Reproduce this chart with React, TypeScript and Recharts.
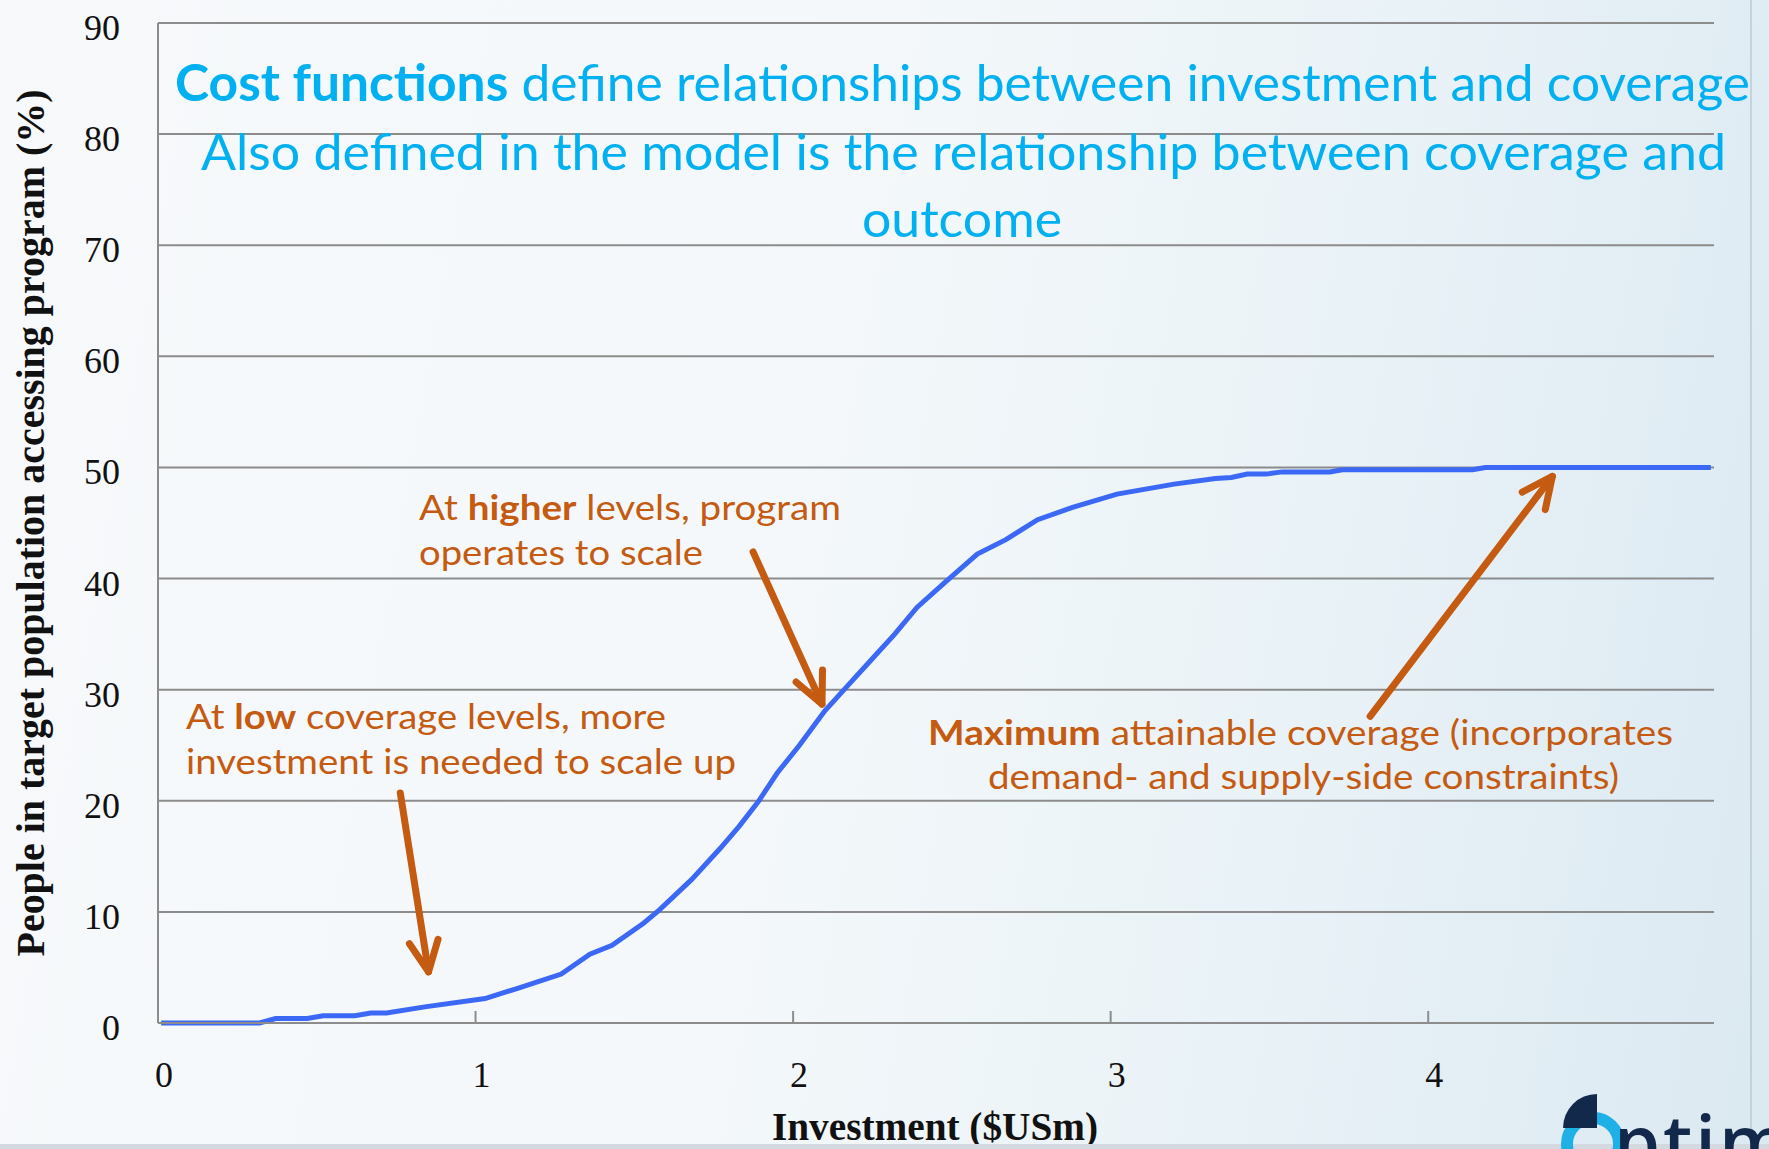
import { LineChart, Line, XAxis, YAxis, CartesianGrid, ReferenceLine } from 'recharts'

// investment ($USm) vs coverage (%)
const investment = [
  0.01, 0.32, 0.37, 0.47, 0.52, 0.62, 0.67, 0.72, 0.84, 1.03, 1.13, 1.27, 1.36, 1.43, 1.53,
  1.58, 1.68, 1.77, 1.83, 1.89, 1.95, 2.02, 2.1, 2.17, 2.25, 2.32, 2.39, 2.48, 2.58, 2.67,
  2.77, 2.88, 3.02, 3.2, 3.33, 3.38, 3.43, 3.49, 3.54, 3.69, 3.73, 4.14, 4.18, 4.89,
]
const coverage = [
  0, 0, 0.4, 0.4, 0.65, 0.65, 0.9, 0.9, 1.45, 2.2, 3.1, 4.4, 6.2, 7.0, 9.0, 10.2, 12.9,
  15.7, 17.7, 19.9, 22.5, 25.0, 28.1, 30.3, 32.8, 35.0, 37.4, 39.7, 42.2, 43.5, 45.3, 46.4,
  47.6, 48.5, 49.0, 49.1, 49.4, 49.4, 49.6, 49.6, 49.8, 49.8, 50.0, 50.0,
]
const xTicks = [0, 1, 2, 3, 4]
const yTicks = [0, 10, 20, 30, 40, 50, 60, 70, 80, 90]

// annotation arrows, in data units: [start, tip]
const arrowStarts = [
  { x: 0.763, y: 20.7 },
  { x: 1.874, y: 42.4 },
  { x: 3.817, y: 27.6 },
]
const arrowTips = [
  { x: 0.852, y: 4.6 },
  { x: 2.091, y: 28.7 },
  { x: 4.391, y: 49.2 },
]

const data = investment.map((x, i) => ({ x, y: coverage[i] }))

const GRID = '#8c8c8c'
const ORANGE = '#c55a11'
const CYAN = '#00b0f0'
const NAVY = '#13294b'

function ArrowShape(props: any) {
  const { x1, y1, x2, y2 } = props
  const ang = Math.atan2(y2 - y1, x2 - x1)
  const L = 34
  const s = 0.44
  const w1x = x2 - L * Math.cos(ang - s)
  const w1y = y2 - L * Math.sin(ang - s)
  const w2x = x2 - L * Math.cos(ang + s)
  const w2y = y2 - L * Math.sin(ang + s)
  return (
    <g stroke={ORANGE} strokeWidth={7} strokeLinecap="round" strokeLinejoin="round" fill="none">
      <line x1={x1} y1={y1} x2={x2} y2={y2} />
      <polyline points={`${w1x},${w1y} ${x2},${y2} ${w2x},${w2y}`} />
    </g>
  )
}

function XTick(props: any) {
  const { x, y, payload } = props
  return (
    <g>
      <line x1={x} y1={y - 40} x2={x} y2={y - 52} stroke={GRID} strokeWidth={2} />
      <text x={x + 6} y={y + 24} textAnchor="middle" fontSize={36} fill="#111"
        fontFamily="'Liberation Serif', serif">
        {payload.value}
      </text>
    </g>
  )
}

function YTick(props: any) {
  const { x, y, payload } = props
  return (
    <text x={x} y={y + 5} textAnchor="end" dominantBaseline="central" fontSize={36} fill="#111"
      fontFamily="'Liberation Serif', serif">
      {payload.value}
    </text>
  )
}

export default function App() {
  return (
    <div
      style={{
        position: 'absolute',
        top: 0,
        left: 0,
        width: 1769,
        height: 1149,
        overflow: 'hidden',
        background:
          'linear-gradient(100deg, #f7f9fb 0%, #f4f8fa 45%, #e9f2f7 72%, #dbe9f1 100%)',
      }}
    >
      <LineChart
        width={1769}
        height={1149}
        data={data}
        margin={{ top: 23, right: 55, bottom: 0, left: 68 }}
      >
        <CartesianGrid vertical={false} stroke={GRID} strokeWidth={2} />
        <XAxis
          type="number"
          dataKey="x"
          domain={[0, 4.9]}
          ticks={xTicks}
          allowDataOverflow
          height={126}
          axisLine={{ stroke: GRID, strokeWidth: 2 }}
          tickLine={false}
          tickSize={0}
          tickMargin={40}
          tick={<XTick />}
        />
        <YAxis
          type="number"
          domain={[0, 90]}
          ticks={yTicks}
          width={90}
          axisLine={{ stroke: GRID, strokeWidth: 2 }}
          tickLine={false}
          tickSize={0}
          tickMargin={38}
          tick={<YTick />}
        />
        <Line
          type="linear"
          dataKey="y"
          stroke="#3b68f5"
          strokeWidth={5}
          dot={false}
          activeDot={false}
          isAnimationActive={false}
        />
        {arrowStarts.map((s, i) => (
          <ReferenceLine
            key={i}
            segment={[s, arrowTips[i]]}
            ifOverflow="visible"
            shape={(p: any) => <ArrowShape {...p} />}
          />
        ))}
      </LineChart>

      <svg
        width={1769}
        height={1149}
        style={{ position: 'absolute', top: 0, left: 0, pointerEvents: 'none' }}
      >
        {/* titles */}
        <g fill={CYAN} fontFamily="Lato, sans-serif" fontSize={51} textAnchor="middle">
          <text x={962.5} y={101} textLength={1575} lengthAdjust="spacingAndGlyphs">
            <tspan fontWeight={700}>Cost functions</tspan>
            {' define relationships between investment and coverage'}
          </text>
          <text x={963.5} y={170} textLength={1525} lengthAdjust="spacingAndGlyphs">
            Also defined in the model is the relationship between coverage and
          </text>
          <text x={962} y={237} textLength={200} lengthAdjust="spacingAndGlyphs">
            outcome
          </text>
        </g>

        {/* annotations */}
        <g fill={ORANGE} fontFamily="Lato, sans-serif" fontSize={35}>
          <text x={419} y={520} textLength={422} lengthAdjust="spacingAndGlyphs">
            {'At '}
            <tspan fontWeight={700}>higher</tspan>
            {' levels, program'}
          </text>
          <text x={419} y={565} textLength={284} lengthAdjust="spacingAndGlyphs">
            operates to scale
          </text>
          <text x={186} y={729} textLength={480} lengthAdjust="spacingAndGlyphs">
            {'At '}
            <tspan fontWeight={700}>low</tspan>
            {' coverage levels, more'}
          </text>
          <text x={186} y={774} textLength={550} lengthAdjust="spacingAndGlyphs">
            investment is needed to scale up
          </text>
          <text x={1300.5} y={745} textAnchor="middle" textLength={745} lengthAdjust="spacingAndGlyphs">
            <tspan fontWeight={700}>Maximum</tspan>
            {' attainable coverage (incorporates'}
          </text>
          <text x={1303.5} y={789} textAnchor="middle" textLength={631} lengthAdjust="spacingAndGlyphs">
            demand- and supply-side constraints)
          </text>
        </g>

        {/* axis titles */}
        <text
          transform="translate(44,523) rotate(-90)"
          textAnchor="middle"
          fontFamily="'Liberation Serif', serif"
          fontWeight={700}
          fontSize={39}
          fill="#111"
          textLength={867}
          lengthAdjust="spacingAndGlyphs"
        >
          People in target population accessing program (%)
        </text>
        <text
          x={935}
          y={1140}
          textAnchor="middle"
          fontFamily="'Liberation Serif', serif"
          fontWeight={700}
          fontSize={40}
          fill="#111"
          textLength={326}
          lengthAdjust="spacingAndGlyphs"
        >
          Investment ($USm)
        </text>

        {/* slide frame bits */}
        <line x1={1751} y1={0} x2={1751} y2={1149} stroke="#a9b9c4" strokeWidth={1} />
        <rect x={0} y={1144} width={1769} height={5} fill="#d3d9de" />

        {/* logo */}
        <circle cx={1593} cy={1144} r={26} fill="none" stroke="#1fb0e6" strokeWidth={12} />
        <path d="M1597,1128 L1563,1128 A34,34 0 0 1 1597,1094 Z" fill={NAVY} />
        <text x={1614} y={1169} fontFamily="'Open Sans', sans-serif" fontWeight={600}
          fontSize={74} fill={NAVY} letterSpacing={3}>
          ptim
        </text>
      </svg>
    </div>
  )
}
